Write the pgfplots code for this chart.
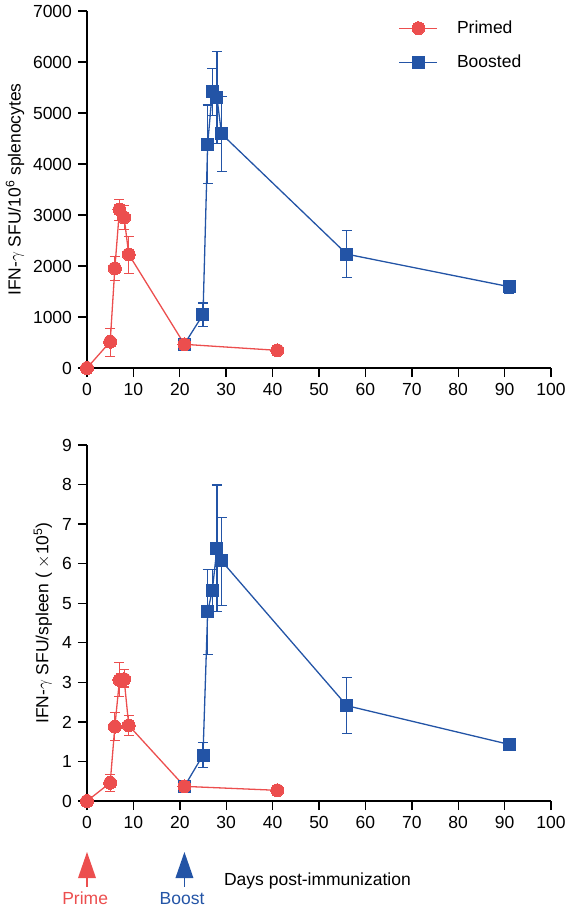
\documentclass[border=0pt]{standalone}
\usepackage{pgfplots}
\usepackage{pgfplotstable}
\pgfplotsset{compat=1.18}
\usepackage{fontspec}
\setmainfont{Liberation Sans}
\definecolor{pRed}{RGB}{236,78,78}
\definecolor{pBlue}{RGB}{35,84,166}

\pgfplotstableread{
x y ep em
0 0 0 0
5 515 255 285
6 1954 235 240
7 3107 200 220
8 2951 240 235
9 2228 345 370
21 464 0 0
41 346 0 0
}\topPrimed
\pgfplotstableread{
x y ep em
21 470 0 0
25 1046 229 229
26 4380 776 767
27 5420 450 466
28 5305 904 906
29 4590 737 734
56 2232 469 455
91 1594 125 125
}\topBoosted
\pgfplotstableread{
x y ep em
0 0 0 0
5 0.46 0.22 0.225
6 1.88 0.36 0.36
7 3.06 0.44 0.41
8 3.08 0.24 0.20
9 1.91 0.26 0.26
21 0.37 0 0
41 0.27 0 0
}\botPrimed
\pgfplotstableread{
x y ep em
21 0.37 0 0
25 1.16 0.32 0.31
26 4.78 1.07 1.08
27 5.32 0.54 0.53
28 6.39 1.60 1.60
29 6.07 1.10 1.13
56 2.41 0.71 0.71
91 1.43 0.16 0.16
}\botBoosted

\pgfplotsset{
  myax/.style={
    scale only axis, width=464pt, xmin=0, xmax=100,
    xtick={0,10,...,100},
    axis lines*=left,
    axis line style={black, line width=1.4pt, -},
    tick style={black, line width=1.4pt},
    tick align=outside, major tick length=9pt,
    clip=false,
    /pgf/number format/assume math mode=true,
    /pgf/number format/1000 sep={},
    tick label style={font=\fontsize{17.5}{20}\selectfont},
    label style={font=\fontsize{17.5}{20}\selectfont},
  },
  prim/.style={pRed, line width=1.3pt, mark=*, mark size=6.5pt,
    mark options={solid, fill=pRed, draw=pRed, line width=0pt},
    error bars/.cd, y dir=both, y explicit,
    error bar style={line width=1.2pt, pRed},
    error mark options={rotate=90, mark size=5pt, line width=1.2pt, pRed}},
  boos/.style={pBlue, line width=1.3pt, mark=square*, mark size=6pt,
    mark options={solid, fill=pBlue, draw=pBlue, line width=0pt},
    error bars/.cd, y dir=both, y explicit,
    error bar style={line width=1.2pt, pBlue},
    error mark options={rotate=90, mark size=5pt, line width=1.2pt, pBlue}},
}

\begin{document}
\fontsize{17.5}{21}\selectfont
\begin{tikzpicture}
\useasboundingbox (-87pt,-538pt) rectangle (479pt,368pt);
\begin{axis}[myax, height=357pt,
  ymin=0, ymax=7000, ytick={0,1000,...,7000},
  ylabel={IFN-$\gamma$ SFU/10\textsuperscript{6} splenocytes},
  ylabel style={at={(axis description cs:-0.155,0.5)}, anchor=center, rotate=0},
  reverse legend,
  legend style={draw=none, fill=none, at={(axis description cs:0.665,0.985)}, anchor=north west,
    font=\fontsize{17.5}{20}\selectfont, row sep=15pt,
    /tikz/every odd column/.append style={column sep=17pt}},
  legend cell align=left,
  legend image code/.code={\draw[mark repeat=2,mark phase=2,#1] plot coordinates {(0pt,0pt) (19pt,0pt) (38pt,0pt)};},
]
\addplot[boos] table[x=x, y=y, y error plus=ep, y error minus=em] {\topBoosted};
\addplot[prim] table[x=x, y=y, y error plus=ep, y error minus=em] {\topPrimed};
\legend{Boosted, Primed}
\end{axis}
\begin{axis}[myax, height=356pt, at={(0,-433pt)},
  ymin=0, ymax=9, ytick={0,1,...,9},
  ylabel={IFN-$\gamma$ SFU/spleen ( $\times$10\textsuperscript{5})},
  ylabel style={at={(axis description cs:-0.095,0.5)}, anchor=center},
]
\addplot[boos] table[x=x, y=y, y error plus=ep, y error minus=em] {\botBoosted};
\addplot[prim] table[x=x, y=y, y error plus=ep, y error minus=em] {\botPrimed};
\fill[pRed] (axis cs:0,0) ++(0,-51pt) -- ++(9pt,-26pt) -- ++(-18pt,0pt) -- cycle;
\draw[pRed, line width=1.3pt] (axis cs:0,0) ++(0,-76pt) -- ++(0,-10pt);
\fill[pBlue] (axis cs:21,0) ++(0,-51pt) -- ++(9pt,-26pt) -- ++(-18pt,0pt) -- cycle;
\draw[pBlue, line width=1.3pt] (axis cs:21,0) ++(0,-76pt) -- ++(0,-10pt);
\node[pRed, anchor=base, inner sep=0pt] at ([yshift=-103pt]axis cs:-0.4,0) {Prime};
\node[pBlue, anchor=base, inner sep=0pt] at ([yshift=-103pt]axis cs:20.5,0) {Boost};
\node[anchor=base west, inner sep=0pt] at ([yshift=-84pt]axis cs:29.5,0) {Days post-immunization};
\end{axis}
\end{tikzpicture}
\end{document}
